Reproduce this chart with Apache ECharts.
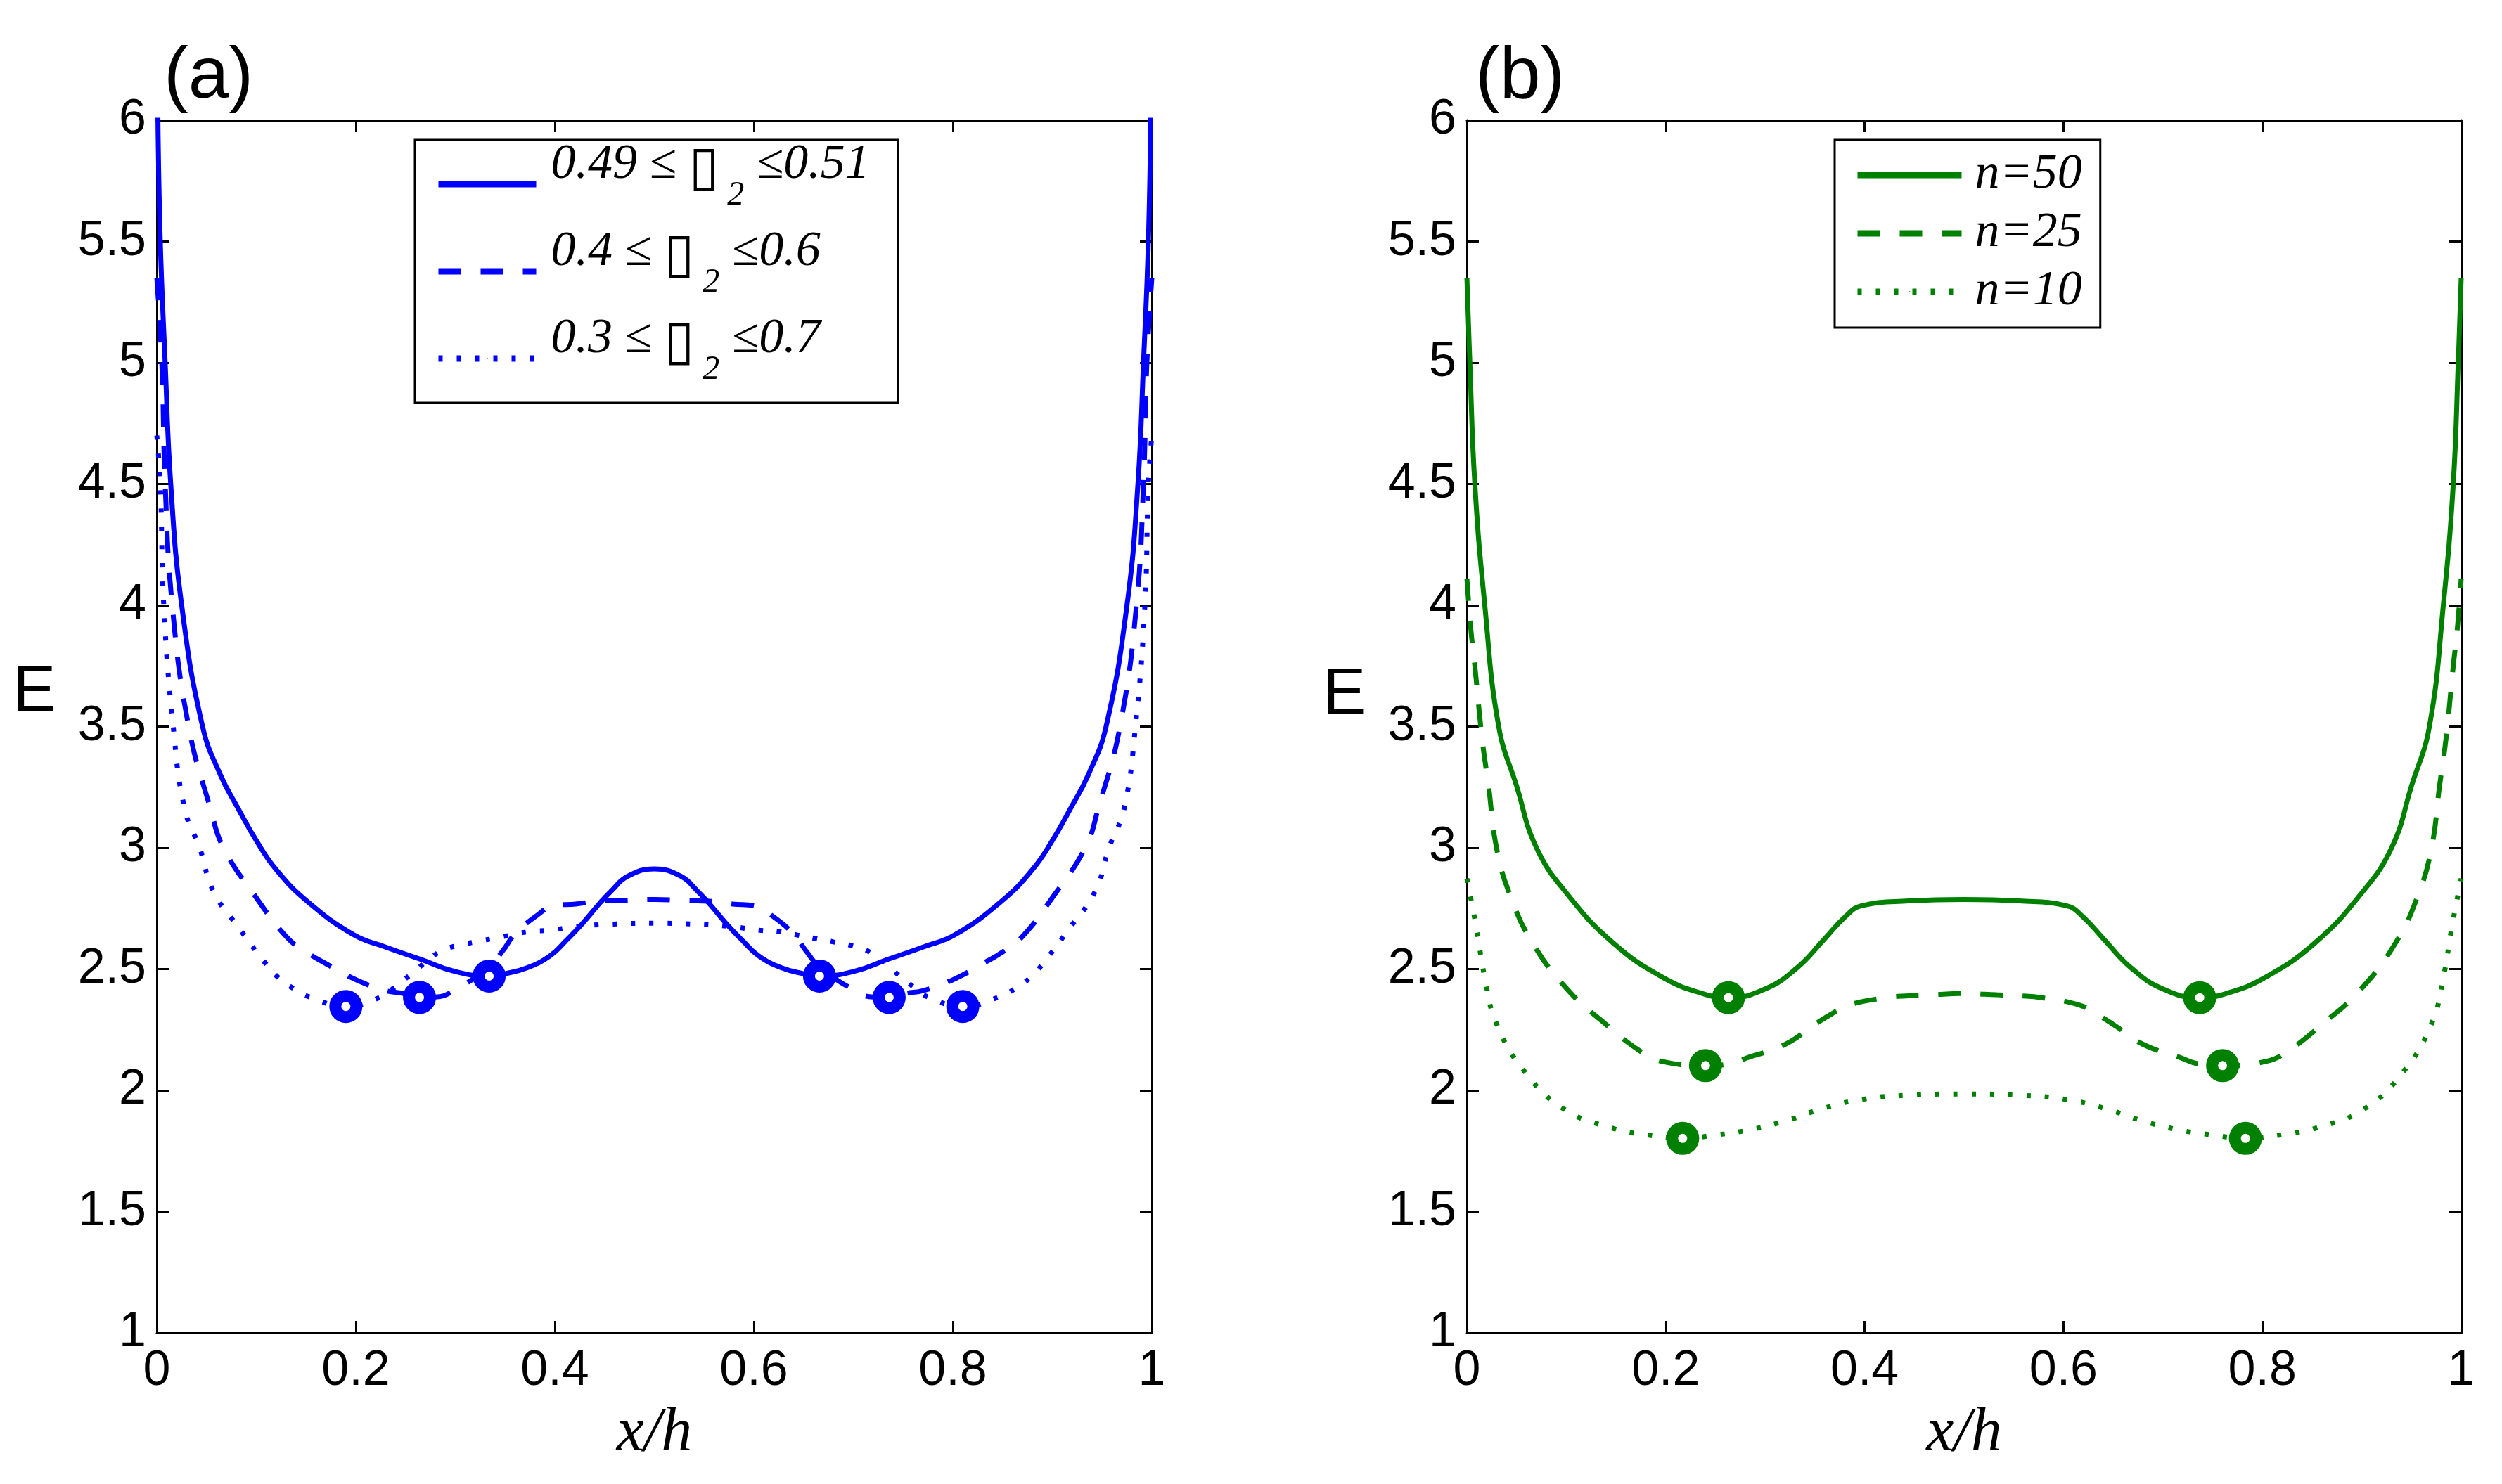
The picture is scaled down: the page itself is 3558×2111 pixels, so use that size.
<!DOCTYPE html>
<html>
<head>
<meta charset="utf-8">
<title>E vs x/h</title>
<script src="https://cdn.jsdelivr.net/npm/echarts@6/dist/echarts.min.js"></script>
<style>
  html, body { margin: 0; padding: 0; background: #fff; }
  #chart { width: 3558px; height: 2111px; }
</style>
</head>
<body>
<div id="chart"></div>
<script>
// panel (a): [x/h, E]
const aNarrow = [
  [0.001, 6.05], [0.0035, 5.5], [0.0084, 5.0], [0.014, 4.5], [0.025, 4.0], [0.046, 3.5],
  [0.064, 3.3], [0.082, 3.16], [0.1, 3.03], [0.12, 2.91], [0.151, 2.78], [0.198, 2.641],
  [0.229, 2.592], [0.266, 2.539], [0.299, 2.491], [0.334, 2.471], [0.35, 2.481], [0.372, 2.505],
  [0.395, 2.554], [0.411, 2.616], [0.428, 2.689], [0.445, 2.771], [0.456, 2.819], [0.473, 2.882],
  [0.5, 2.913],
  [0.527, 2.882], [0.544, 2.819], [0.555, 2.771], [0.572, 2.689], [0.589, 2.616], [0.605, 2.554],
  [0.628, 2.505], [0.65, 2.481], [0.666, 2.471], [0.701, 2.491], [0.734, 2.539], [0.771, 2.592],
  [0.802, 2.641], [0.849, 2.78], [0.88, 2.91], [0.9, 3.03], [0.918, 3.16], [0.936, 3.3],
  [0.954, 3.5], [0.975, 4.0], [0.986, 4.5], [0.9916, 5.0], [0.9965, 5.5], [0.999, 6.05]
];
const aMid = [
  [0, 5.35], [0.005, 5.0], [0.0084, 4.5], [0.0155, 4.0], [0.032, 3.5], [0.054, 3.16],
  [0.067, 3.0], [0.099, 2.8], [0.131, 2.63], [0.151, 2.568], [0.171, 2.52], [0.19, 2.476],
  [0.211, 2.437], [0.231, 2.41], [0.247, 2.4], [0.264, 2.384], [0.28, 2.385], [0.298, 2.41],
  [0.334, 2.51], [0.348, 2.577], [0.359, 2.64], [0.381, 2.718], [0.4, 2.762], [0.421, 2.768],
  [0.445, 2.78], [0.467, 2.782], [0.5, 2.787],
  [0.533, 2.782], [0.555, 2.78], [0.579, 2.768], [0.6, 2.762], [0.619, 2.718], [0.641, 2.64],
  [0.652, 2.577], [0.666, 2.51], [0.702, 2.41], [0.72, 2.385], [0.736, 2.384], [0.753, 2.4],
  [0.769, 2.41], [0.789, 2.437], [0.81, 2.476], [0.829, 2.52], [0.849, 2.568], [0.869, 2.63],
  [0.901, 2.8], [0.933, 3.0], [0.946, 3.16], [0.968, 3.5], [0.9845, 4.0], [0.9916, 4.5],
  [0.995, 5.0], [1, 5.35]
];
const aWide = [
  [0, 4.7], [0.0035, 4.5], [0.007, 4.0], [0.0165, 3.5], [0.028, 3.16], [0.043, 3.0],
  [0.057, 2.82], [0.083, 2.667], [0.108, 2.53], [0.1216, 2.467], [0.1373, 2.42], [0.1534, 2.385],
  [0.19, 2.346], [0.2252, 2.385], [0.24, 2.428], [0.2546, 2.476], [0.284, 2.571], [0.302, 2.597],
  [0.32, 2.612], [0.338, 2.626], [0.357, 2.641], [0.375, 2.655], [0.394, 2.66], [0.42, 2.674],
  [0.45, 2.684], [0.5, 2.689],
  [0.55, 2.684], [0.58, 2.674], [0.606, 2.66], [0.625, 2.655], [0.643, 2.641], [0.662, 2.626],
  [0.68, 2.612], [0.698, 2.597], [0.716, 2.571], [0.7454, 2.476], [0.76, 2.428], [0.7748, 2.385],
  [0.81, 2.346], [0.8466, 2.385], [0.8627, 2.42], [0.8784, 2.467], [0.892, 2.53], [0.917, 2.667],
  [0.943, 2.82], [0.957, 3.0], [0.972, 3.16], [0.9835, 3.5], [0.993, 4.0], [0.9965, 4.5],
  [1, 4.7]
];
const aMinima = [[0.19, 2.346], [0.264, 2.383], [0.334, 2.471], [0.666, 2.471], [0.736, 2.383], [0.81, 2.346]];

// panel (b)
const bN50 = [
  [0, 5.35], [0.003, 5.0], [0.008, 4.5], [0.018, 4.0], [0.032, 3.5], [0.05, 3.255],
  [0.07, 3.0], [0.102, 2.804], [0.147, 2.608], [0.1965, 2.467], [0.237, 2.399], [0.263, 2.382],
  [0.3, 2.418], [0.332, 2.505], [0.359, 2.621], [0.381, 2.718], [0.397, 2.761], [0.4445, 2.781],
  [0.5, 2.787],
  [0.5555, 2.781], [0.603, 2.761], [0.619, 2.718], [0.641, 2.621], [0.668, 2.505], [0.7, 2.418],
  [0.737, 2.382], [0.7635, 2.399], [0.8035, 2.467], [0.853, 2.608], [0.898, 2.804], [0.93, 3.0],
  [0.95, 3.255], [0.968, 3.5], [0.982, 4.0], [0.992, 4.5], [0.997, 5.0], [1, 5.35]
];
const bN25 = [
  [0, 4.11], [0.004, 3.9], [0.008, 3.75], [0.0153, 3.45], [0.0218, 3.255], [0.0298, 3.0],
  [0.0435, 2.804], [0.066, 2.608], [0.102, 2.412], [0.139, 2.275], [0.176, 2.157], [0.1965, 2.119],
  [0.2393, 2.102], [0.264, 2.109], [0.2846, 2.138], [0.307, 2.167], [0.3273, 2.206], [0.3453, 2.259],
  [0.3656, 2.312], [0.3837, 2.351], [0.4219, 2.382], [0.4447, 2.39], [0.4671, 2.394], [0.5, 2.399],
  [0.5329, 2.394], [0.5553, 2.39], [0.5781, 2.382], [0.6163, 2.351], [0.6344, 2.312], [0.6547, 2.259],
  [0.6727, 2.206], [0.693, 2.167], [0.7154, 2.138], [0.736, 2.109], [0.7607, 2.102], [0.8035, 2.119],
  [0.824, 2.157], [0.861, 2.275], [0.898, 2.412], [0.934, 2.608], [0.9565, 2.804], [0.9702, 3.0],
  [0.9782, 3.255], [0.9847, 3.45], [0.992, 3.75], [0.996, 3.9], [1, 4.11]
];
const bN10 = [
  [0, 2.873], [0.0097, 2.667], [0.0177, 2.471], [0.0298, 2.275], [0.058, 2.078], [0.098, 1.922],
  [0.147, 1.843], [0.1765, 1.819], [0.2168, 1.802], [0.2483, 1.815], [0.2867, 1.839], [0.3228, 1.877],
  [0.3588, 1.926], [0.3994, 1.964], [0.44, 1.979], [0.5, 1.985],
  [0.56, 1.979], [0.6006, 1.964], [0.6412, 1.926], [0.6772, 1.877], [0.7133, 1.839], [0.7517, 1.815],
  [0.7832, 1.802], [0.8235, 1.819], [0.853, 1.843], [0.902, 1.922], [0.942, 2.078], [0.9702, 2.275],
  [0.9823, 2.471], [0.9903, 2.667], [1, 2.873]
];
const bMinima = [[0.263, 2.382], [0.737, 2.382], [0.24, 2.102], [0.76, 2.102], [0.217, 1.802], [0.783, 1.802]];

// legend texts
const aLow = ["0.49", "0.4", "0.3"];
const aHigh = ["0.51", "0.6", "0.7"];
const aNames = aLow.map((lo, i) => lo + " ≤ ▯2 ≤" + aHigh[i]);
const bNames = ["n=50", "n=25", "n=10"];

const BLUE = "#0000ff";
const GREEN = "#008000";
const SANS = "'Liberation Sans', Arial, sans-serif";
const SERIF = "'Liberation Serif', 'Times New Roman', serif";
const DASHED = [32, 28];
const DOTTED = [6, 20];

const chart = echarts.init(document.getElementById("chart"));

function lineSeries(name, data, axis, color, dash) {
  return {
    name: name,
    type: "line",
    xAxisIndex: axis * 2,
    yAxisIndex: axis * 2,
    data: data,
    symbol: "none",
    smooth: 0.45,
    clip: true,
    lineStyle: { color: color, width: 7, type: dash },
    itemStyle: { color: color },
    silent: true,
    z: 3,
  };
}

function minimaSeries(name, data, axis, color) {
  return {
    name: name,
    type: "scatter",
    xAxisIndex: axis * 2,
    yAxisIndex: axis * 2,
    data: data,
    symbol: "circle",
    symbolSize: 30,
    itemStyle: { color: "#fff", borderColor: color, borderWidth: 17, opacity: 1 },
    silent: true,
    z: 4,
  };
}

// 每个面板两条x轴和两条y轴,做成封闭的框
function xAxes(grid) {
  const common = {
    type: "value",
    gridIndex: grid,
    min: 0,
    max: 1,
    interval: 0.2,
    splitLine: { show: false },
    axisLine: { show: true, onZero: false, lineStyle: { color: "#000", width: 3 } },
    axisTick: { show: true, inside: true, length: 17, lineStyle: { color: "#000", width: 3 } },
  };
  return [
    Object.assign({}, common, {
      position: "bottom",
      axisLabel: { color: "#000", fontSize: 70, fontFamily: SANS, margin: 20 },
      name: "x/h",
      nameLocation: "middle",
      nameGap: 100,
      nameTextStyle: { color: "#000", fontSize: 88, fontFamily: SERIF, fontStyle: "italic" },
    }),
    Object.assign({}, common, { position: "top", axisLabel: { show: false } }),
  ];
}

function yAxes(grid) {
  const common = {
    type: "value",
    gridIndex: grid,
    min: 1,
    max: 6,
    interval: 0.5,
    splitLine: { show: false },
    axisLine: { show: true, onZero: false, lineStyle: { color: "#000", width: 3 } },
    axisTick: { show: true, inside: true, length: 17, lineStyle: { color: "#000", width: 3 } },
  };
  return [
    Object.assign({}, common, {
      position: "left",
      axisLabel: { color: "#000", fontSize: 70, fontFamily: SANS, margin: 15 },
    }),
    Object.assign({}, common, { position: "right", axisLabel: { show: false } }),
  ];
}

function panelTitle(text, left, top, size) {
  return {
    text: text,
    left: left,
    top: top,
    padding: 0,
    textStyle: { color: "#000", fontSize: size, fontWeight: "normal", fontFamily: SANS },
  };
}

const option = {
  backgroundColor: "#fff",
  animation: false,
  title: [
    panelTitle("(a)", 233, 58, 104),
    panelTitle("(b)", 2098, 58, 104),
    panelTitle("E", 18, 941, 92),
    panelTitle("E", 1881, 944, 92),
  ],
  grid: [
    { left: 223, top: 171, width: 1415, height: 1725 },
    { left: 2086, top: 171, width: 1414, height: 1725 },
  ],
  xAxis: xAxes(0).concat(xAxes(1)),
  yAxis: yAxes(0).concat(yAxes(1)),
  legend: [
    {
      data: aNames,
      orient: "vertical",
      left: 590,
      top: 199,
      padding: [1, 40, 1, 29],
      itemGap: 0,
      itemWidth: 139,
      itemHeight: 2,
      selectedMode: false,
      backgroundColor: "#fff",
      borderColor: "#000",
      borderWidth: 3,
      borderRadius: 0,
      lineStyle: { width: 9 },
      formatter: function (name) {
        const i = aNames.indexOf(name);
        return "{f|" + aLow[i] + " ≤ }{b|▯}{s|2}{m| ≤" + aHigh[i] + "}";
      },
      textStyle: {
        color: "#000",
        rich: {
          f: { fontSize: 70, lineHeight: 54, fontFamily: SERIF, fontStyle: "italic", padding: [0, 0, 54, 16] },
          b: { fontSize: 78, lineHeight: 54, fontFamily: "'DejaVu Sans'", fontStyle: "normal", padding: [0, 0, 40, 0] },
          m: { fontSize: 70, lineHeight: 54, fontFamily: SERIF, fontStyle: "italic", padding: [0, 0, 54, 0] },
          s: { fontSize: 48, lineHeight: 48, fontFamily: SERIF, fontStyle: "italic", padding: [32, 0, 0, 12] },
        },
      },
    },
    {
      data: bNames,
      orient: "vertical",
      left: 2609,
      top: 199,
      padding: [15, 26, 16, 28],
      itemGap: 13,
      itemWidth: 148,
      itemHeight: 2,
      selectedMode: false,
      backgroundColor: "#fff",
      borderColor: "#000",
      borderWidth: 3,
      borderRadius: 0,
      lineStyle: { width: 9 },
      textStyle: {
        color: "#000",
        fontSize: 70,
        lineHeight: 70,
        fontFamily: SERIF,
        fontStyle: "italic",
        padding: [0, 0, 0, 14],
      },
    },
  ],
  series: [
    lineSeries(aNames[0], aNarrow, 0, BLUE, "solid"),
    lineSeries(aNames[1], aMid, 0, BLUE, DASHED),
    lineSeries(aNames[2], aWide, 0, BLUE, DOTTED),
    minimaSeries("minima a", aMinima, 0, BLUE),
    lineSeries(bNames[0], bN50, 1, GREEN, "solid"),
    lineSeries(bNames[1], bN25, 1, GREEN, DASHED),
    lineSeries(bNames[2], bN10, 1, GREEN, DOTTED),
    minimaSeries("minima b", bMinima, 1, GREEN),
  ],
};

chart.setOption(option);
</script>
</body>
</html>
